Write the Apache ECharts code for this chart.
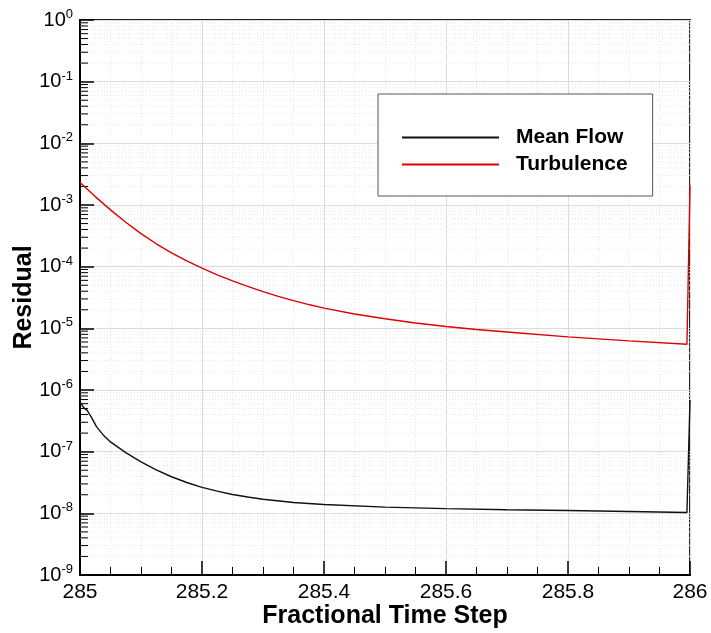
<!DOCTYPE html>
<html>
<head>
<meta charset="utf-8">
<script src="https://cdn.jsdelivr.net/npm/echarts@6/dist/echarts.min.js"></script>
<style>
  html, body { margin: 0; padding: 0; background: #fff; }
  #chart { width: 711px; height: 633px; }
</style>
</head>
<body>
<div id="chart"></div>
<script>
// Residual history over one fractional time step
const meanFlowTime = [285, 285.006, 285.012, 285.019, 285.027, 285.038, 285.05, 285.075, 285.1, 285.125,
  285.15, 285.175, 285.2, 285.225, 285.25, 285.275, 285.3, 285.35, 285.4, 285.5, 285.6, 285.7, 285.8, 285.9, 285.995, 286];
const meanFlowResidual = [6.43e-7, 5.18e-7, 4.63e-7, 3.56e-7, 2.55e-7, 1.87e-7, 1.44e-7, 9.64e-8, 6.83e-8, 5.08e-8,
  3.92e-8, 3.16e-8, 2.63e-8, 2.29e-8, 2.02e-8, 1.84e-8, 1.69e-8, 1.50e-8, 1.39e-8, 1.26e-8, 1.19e-8, 1.14e-8, 1.11e-8, 1.07e-8, 1.03e-8, 6.9e-7];

const turbTime = [285, 285.025, 285.05, 285.075, 285.1, 285.125, 285.15, 285.175, 285.2, 285.225, 285.25, 285.275,
  285.3, 285.325, 285.35, 285.375, 285.4, 285.45, 285.5, 285.55, 285.6, 285.65, 285.7, 285.8, 285.9, 285.995, 286];
const turbResidual = [2.31e-3, 1.368e-3, 8.34e-4, 5.26e-4, 3.44e-4, 2.35e-4, 1.67e-4, 1.24e-4, 9.46e-5, 7.38e-5, 5.89e-5, 4.78e-5,
  3.94e-5, 3.30e-5, 2.81e-5, 2.43e-5, 2.13e-5, 1.71e-5, 1.43e-5, 1.22e-5, 1.07e-5, 9.57e-6, 8.71e-6, 7.28e-6, 6.27e-6, 5.52e-6, 2.1e-3];

const seriesNames = ['Mean Flow', 'Turbulence'];
const xMin = 285, xMax = 286, xStep = 0.2;
const yMinExp = -9, yMaxExp = 0;

const FONT = 'Liberation Sans, Arial, Helvetica, sans-serif';

// minor log positions (2..9 x 10^n) for ticks and dotted grid
const minorLogValues = [];
for (let e = yMinExp; e < yMaxExp; e++) {
  for (let k = 2; k <= 9; k++) minorLogValues.push([xMin, k * Math.pow(10, e)]);
}

const chart = echarts.init(document.getElementById('chart'), null, { renderer: 'canvas' });

chart.setOption({
  backgroundColor: '#ffffff',
  animation: false,
  grid: {
    left: 80, right: 21, top: 20, bottom: 58,
    containLabel: false, outerBoundsMode: 'none',
    show: true, borderColor: '#222', borderWidth: 2, backgroundColor: 'transparent'
  },
  legend: {
    data: seriesNames,
    orient: 'vertical',
    left: 378, top: 94,
    padding: [33, 25, 21, 23],
    itemWidth: 97, itemHeight: 20, itemGap: 6,
    itemStyle: { opacity: 0 },
    backgroundColor: '#fff',
    borderColor: '#555', borderWidth: 1,
    textStyle: { fontFamily: FONT, fontSize: 21, fontWeight: 'bold', color: '#000', padding: [0, 0, 0, 12] }
  },
  xAxis: {
    type: 'value',
    min: xMin, max: xMax, interval: xStep,
    name: 'Fractional Time Step',
    nameLocation: 'middle', nameGap: 29, nameMoveOverlap: false,
    nameTextStyle: { fontFamily: FONT, fontSize: 25, fontWeight: 'bold', color: '#000' },
    axisLine: { show: true, onZero: false, lineStyle: { color: '#000', width: 2 } },
    axisTick: { show: true, inside: true, length: 14, lineStyle: { color: '#000', width: 1.5 } },
    minorTick: { show: true, splitNumber: 4, length: 8, lineStyle: { color: '#000', width: 1 } },
    axisLabel: {
      fontFamily: FONT, fontSize: 21, color: '#000', margin: 7,
      formatter: v => String(parseFloat(v.toFixed(1)))
    },
    splitLine: { show: true, lineStyle: { color: '#dcdcdc', width: 1 } },
    minorSplitLine: { show: true, lineStyle: { color: '#e6e6e6', width: 1, type: [1, 2] } }
  },
  yAxis: {
    type: 'log', logBase: 10,
    min: Math.pow(10, yMinExp), max: Math.pow(10, yMaxExp),
    interval: 1, splitNumber: 9,
    name: 'Residual',
    nameLocation: 'middle', nameGap: 43, nameRotate: 90, nameMoveOverlap: false,
    nameTextStyle: { fontFamily: FONT, fontSize: 25, fontWeight: 'bold', color: '#000' },
    axisLine: { show: true, lineStyle: { color: '#000', width: 2 } },
    axisTick: { show: true, inside: true, length: 14, lineStyle: { color: '#000', width: 1.5 } },
    axisLabel: {
      margin: 7,
      formatter: v => '{b|10}{s|' + Math.round(Math.log10(v)) + '}',
      rich: {
        b: { fontFamily: FONT, fontSize: 20, color: '#000' },
        s: { fontFamily: FONT, fontSize: 13, color: '#000', padding: [0, 0, 11, 0] }
      }
    },
    splitLine: { show: true, lineStyle: { color: '#dcdcdc', width: 1 } }
  },
  series: [
    {
      // dotted minor grid and short inner ticks at 2..9 of each decade
      type: 'custom',
      silent: true,
      z: 1,
      data: minorLogValues,
      renderItem: (params, api) => {
        const v = api.value(1);
        const p0 = api.coord([xMin, v]);
        const p1 = api.coord([xMax, v]);
        return {
          type: 'group',
          children: [
            { type: 'line', shape: { x1: p0[0], y1: p0[1], x2: p1[0], y2: p1[1] },
              style: { stroke: '#e6e6e6', lineWidth: 1, lineDash: [1, 2] } },
            { type: 'line', shape: { x1: p0[0], y1: p0[1], x2: p0[0] + 8, y2: p0[1] },
              style: { stroke: '#000', lineWidth: 1 } }
          ]
        };
      }
    },
    {
      name: seriesNames[0],
      type: 'line',
      symbol: 'none',
      z: 3,
      data: meanFlowTime.map((t, i) => [t, meanFlowResidual[i]]),
      lineStyle: { color: '#111', width: 1.4 },
      itemStyle: { color: '#111' }
    },
    {
      name: seriesNames[1],
      type: 'line',
      symbol: 'none',
      z: 3,
      data: turbTime.map((t, i) => [t, turbResidual[i]]),
      lineStyle: { color: '#dd0000', width: 1.4 },
      itemStyle: { color: '#dd0000' }
    }
  ]
});
</script>
</body>
</html>
